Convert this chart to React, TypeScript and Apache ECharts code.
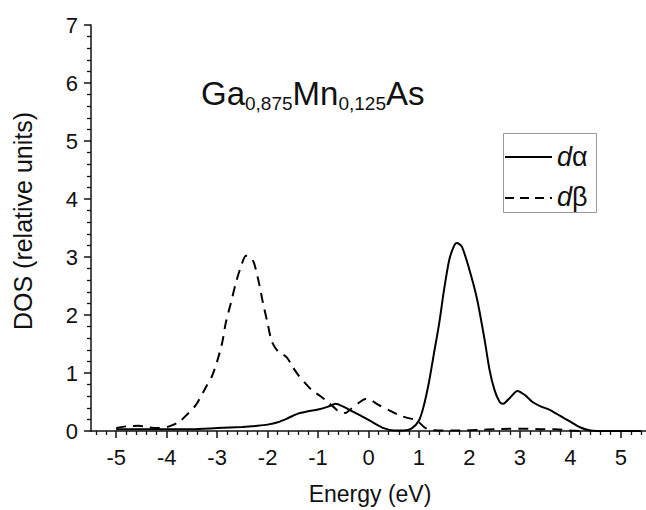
import React, { useEffect, useRef } from "react";
import * as echarts from "echarts";

// d-alpha (solid) density of states
const energyAlpha = [-5.0, -4.5, -4.0, -3.5, -3.0, -2.5, -2.2, -2.0, -1.8, -1.6, -1.4, -1.2, -1.0, -0.8, -0.65, -0.5, -0.3, -0.1, 0.1, 0.3, 0.5, 0.7, 0.85, 1.0, 1.1, 1.2, 1.3, 1.4, 1.5, 1.6, 1.7, 1.75, 1.85, 2.0, 2.15, 2.3, 2.4, 2.5, 2.6, 2.67, 2.8, 2.95, 3.1, 3.25, 3.4, 3.6, 3.8, 4.0, 4.2, 4.4, 4.7, 5.0, 5.4];
const dosAlpha = [0.03, 0.03, 0.03, 0.03, 0.05, 0.07, 0.09, 0.11, 0.15, 0.22, 0.30, 0.34, 0.37, 0.42, 0.47, 0.42, 0.33, 0.24, 0.14, 0.05, 0.01, 0.01, 0.04, 0.18, 0.45, 0.85, 1.35, 1.85, 2.45, 2.95, 3.2, 3.24, 3.18, 2.78, 2.28, 1.58, 1.05, 0.7, 0.5, 0.47, 0.57, 0.69, 0.62, 0.5, 0.43, 0.36, 0.26, 0.16, 0.06, 0.01, 0, 0, 0];

// d-beta (dashed) density of states
const energyBeta = [-5.0, -4.8, -4.55, -4.35, -4.15, -3.95, -3.75, -3.6, -3.42, -3.22, -3.1, -3.0, -2.9, -2.83, -2.73, -2.63, -2.53, -2.43, -2.35, -2.27, -2.17, -2.09, -2.0, -1.92, -1.8, -1.62, -1.5, -1.38, -1.25, -1.13, -0.95, -0.85, -0.7, -0.59, -0.46, -0.35, -0.2, -0.06, 0.05, 0.2, 0.4, 0.59, 0.75, 0.9, 1.0, 1.1, 1.2, 1.4, 1.8, 2.2, 2.5, 2.8, 3.1, 3.4, 3.7, 4.0, 4.2];
const dosBeta = [0.05, 0.08, 0.09, 0.06, 0.05, 0.08, 0.16, 0.28, 0.45, 0.76, 0.95, 1.2, 1.52, 1.86, 2.2, 2.55, 2.83, 3.02, 3.0, 2.9, 2.55, 2.2, 1.86, 1.55, 1.38, 1.27, 1.1, 0.95, 0.82, 0.71, 0.6, 0.53, 0.42, 0.34, 0.31, 0.38, 0.48, 0.55, 0.53, 0.45, 0.36, 0.28, 0.23, 0.2, 0.15, 0.07, 0.02, 0.01, 0.01, 0.02, 0.03, 0.04, 0.04, 0.03, 0.03, 0.01, 0];

const xTickLabels = [-5, -4, -3, -2, -1, 0, 1, 2, 3, 4, 5];
const yTickLabels = [0, 1, 2, 3, 4, 5, 6, 7];

const FONT = "'Liberation Sans', Arial, Helvetica, sans-serif";

export default function App() {
  const ref = useRef<HTMLDivElement>(null);

  useEffect(() => {
    if (!ref.current) return;
    const chart = echarts.init(ref.current, null, { renderer: "svg" });

    const minorX: number[] = [];
    for (let i = -27; i <= 27; i++) {
      if (i % 5 !== 0) minorX.push(Math.round(i * 2) / 10);
    }

    const alphaData = energyAlpha.map((e, i) => [e, dosAlpha[i]]);
    const betaData = energyBeta.map((e, i) => [e, dosBeta[i]]);

    const axisColor = "#111";

    chart.setOption({
      animation: false,
      grid: { left: 91, top: 25, width: 556, height: 406 },
      xAxis: [
        {
          type: "value",
          min: -5.5,
          max: 5.5,
          position: "bottom",
          axisLine: { show: true, onZero: false, lineStyle: { color: axisColor, width: 1.5 } },
          axisTick: { show: true, customValues: xTickLabels, length: 7, lineStyle: { color: axisColor, width: 1.5 } },
          axisLabel: { show: true, customValues: xTickLabels, margin: 15, fontSize: 22, color: "#111", fontFamily: FONT },
          splitLine: { show: false },
        },
        {
          type: "value",
          min: -5.5,
          max: 5.5,
          position: "bottom",
          axisLine: { show: false, onZero: false },
          axisTick: { show: true, customValues: minorX, length: 4, lineStyle: { color: axisColor, width: 1.3 } },
          axisLabel: { show: false },
          splitLine: { show: false },
        },
      ],
      yAxis: {
        type: "value",
        min: 0,
        max: 7,
        interval: 1,
        position: "left",
        axisLine: { show: true, onZero: false, lineStyle: { color: axisColor, width: 1.5 } },
        axisTick: { show: true, length: 7, lineStyle: { color: axisColor, width: 1.5 } },
        minorTick: { show: true, splitNumber: 5, length: 4, lineStyle: { color: axisColor, width: 1.3 } },
        axisLabel: {
          margin: 13,
          fontSize: 22,
          color: "#111",
          fontFamily: FONT,
          formatter: (v: number) => (yTickLabels.includes(v) ? String(v) : ""),
        },
        splitLine: { show: false },
      },
      series: [
        {
          name: "dα",
          type: "line",
          xAxisIndex: 0,
          data: alphaData,
          showSymbol: false,
          smooth: 0.25,
          lineStyle: { color: "#000", width: 2 },
          z: 3,
        },
        {
          name: "dβ",
          type: "line",
          xAxisIndex: 0,
          data: betaData,
          showSymbol: false,
          smooth: 0.25,
          lineStyle: { color: "#000", width: 2, type: [10, 7] },
          z: 3,
        },
      ],
      graphic: [
        {
          type: "text",
          x: 370,
          y: 494,
          style: {
            text: "Energy (eV)",
            fontSize: 23,
            fontFamily: FONT,
            fill: "#111",
            align: "center",
            verticalAlign: "middle",
          },
        },
        {
          type: "text",
          x: 23,
          y: 221,
          rotation: Math.PI / 2,
          style: {
            text: "DOS (relative units)",
            fontSize: 25,
            fontFamily: FONT,
            fill: "#111",
            align: "center",
            verticalAlign: "middle",
          },
        },
        {
          type: "text",
          x: 201,
          y: 77,
          style: {
            text: "{b|Ga}{s|0,875}{b|Mn}{s|0,125}{b|As}",
            verticalAlign: "top",
            fill: "#111",
            rich: {
              b: { fontSize: 33, lineHeight: 33, fontFamily: FONT, fill: "#111", verticalAlign: "top" },
              s: { fontSize: 19, lineHeight: 20, fontFamily: FONT, fill: "#111", verticalAlign: "top", padding: [17, 0, 0, 0] },
            },
          },
        },
        {
          type: "rect",
          shape: { x: 503.5, y: 133.5, width: 93, height: 79 },
          style: { fill: "#fff", stroke: "#999", lineWidth: 1 },
          z: 10,
        },
        {
          type: "line",
          shape: { x1: 505, y1: 157, x2: 552, y2: 157 },
          style: { stroke: "#000", lineWidth: 2 },
          z: 11,
        },
        {
          type: "line",
          shape: { x1: 505, y1: 198, x2: 552, y2: 198 },
          style: { stroke: "#000", lineWidth: 2, lineDash: [9, 6] },
          z: 11,
        },
        {
          type: "text",
          x: 557,
          y: 157,
          style: {
            text: "{i|d}{n|α}",
            verticalAlign: "middle",
            rich: {
              i: { fontSize: 27, fontStyle: "italic", fontFamily: FONT, fill: "#111" },
              n: { fontSize: 27, fontFamily: FONT, fill: "#111" },
            },
          },
          z: 11,
        },
        {
          type: "text",
          x: 557,
          y: 197,
          style: {
            text: "{i|d}{n|β}",
            verticalAlign: "middle",
            rich: {
              i: { fontSize: 27, fontStyle: "italic", fontFamily: FONT, fill: "#111" },
              n: { fontSize: 27, fontFamily: FONT, fill: "#111" },
            },
          },
          z: 11,
        },
      ],
    });

    return () => chart.dispose();
  }, []);

  return (
    <div
      ref={ref}
      style={{ position: "fixed", left: 0, top: 0, width: 646, height: 510, background: "#fff" }}
    />
  );
}
